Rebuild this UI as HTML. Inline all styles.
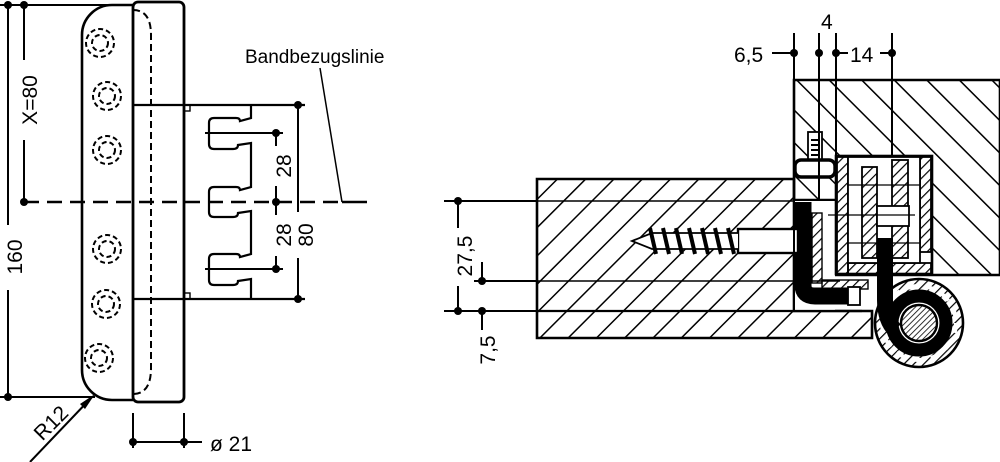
<!DOCTYPE html>
<html><head><meta charset="utf-8"><style>
html,body{margin:0;padding:0;background:#fff;}
svg{display:block;}
text{font-family:"Liberation Sans",Arial,sans-serif;fill:#000;}
</style></head><body>
<svg width="1000" height="462" viewBox="0 0 1000 462" xmlns="http://www.w3.org/2000/svg">
<defs>
<pattern id="hd" patternUnits="userSpaceOnUse" width="20" height="20" patternTransform="rotate(45)">
<line x1="0" y1="0" x2="0" y2="20" stroke="#000" stroke-width="3"/></pattern>
<pattern id="hf" patternUnits="userSpaceOnUse" width="23" height="23" patternTransform="rotate(-45)">
<line x1="0" y1="0" x2="0" y2="23" stroke="#000" stroke-width="3"/></pattern>
<pattern id="hs" patternUnits="userSpaceOnUse" width="7" height="7" patternTransform="rotate(45)">
<line x1="0" y1="0" x2="0" y2="7" stroke="#000" stroke-width="2.4"/></pattern>
<pattern id="hp" patternUnits="userSpaceOnUse" width="4" height="4" patternTransform="rotate(45)">
<line x1="0" y1="0" x2="0" y2="4" stroke="#000" stroke-width="1.6"/></pattern>
</defs>

<!-- ============ LEFT VIEW ============ -->
<g stroke="#000" fill="none" stroke-width="2">
<line x1="0" y1="5" x2="130" y2="5"/>
<line x1="0" y1="397" x2="95" y2="397"/>
<line x1="8" y1="5" x2="8" y2="225"/>
<line x1="8" y1="290" x2="8" y2="397"/>
<line x1="24" y1="5" x2="24" y2="60"/>
<line x1="24" y1="140" x2="24" y2="202"/>
</g>
<g fill="#000">
<circle cx="8" cy="5" r="4"/><circle cx="24" cy="5" r="4"/>
<circle cx="8" cy="397" r="4"/><circle cx="24" cy="202" r="4"/>
</g>
<text transform="translate(22,257) rotate(-90)" font-size="21" text-anchor="middle">160</text>
<text transform="translate(37,100) rotate(-90)" font-size="21" text-anchor="middle">X=80</text>

<path d="M133,5 H112 A30,30 0 0 0 82,35 V370 A30,30 0 0 0 112,400 H133" fill="none" stroke="#000" stroke-width="2.6"/>
<rect x="133" y="2" width="51" height="400" rx="5" fill="#fff" stroke="#000" stroke-width="2.8"/>
<path d="M133,10 Q151,10 151,35 V368 Q151,394 133,394" fill="none" stroke="#000" stroke-width="2" stroke-dasharray="7,4"/>
<g fill="none" stroke="#000" stroke-width="2" stroke-dasharray="5,3">
<circle cx="100" cy="43" r="14"/><circle cx="100" cy="43" r="8"/>
<circle cx="107" cy="96" r="14"/><circle cx="107" cy="96" r="8"/>
<circle cx="107" cy="150" r="14"/><circle cx="107" cy="150" r="8"/>
<circle cx="107" cy="249" r="14"/><circle cx="107" cy="249" r="8"/>
<circle cx="106" cy="304" r="14"/><circle cx="106" cy="304" r="8"/>
<circle cx="99" cy="358" r="14"/><circle cx="99" cy="358" r="8"/>
</g>
<g stroke="#000" fill="none" stroke-width="2.2">
<line x1="133" y1="105" x2="305" y2="105"/>
<line x1="133" y1="299" x2="305" y2="299"/>
<rect x="184" y="105" width="6" height="6" stroke-width="1.4"/>
<rect x="184" y="293" width="6" height="6" stroke-width="1.4"/>
<path d="M251,105 V118 L240,121 Q240,118 236,118 H214 Q209,118 209,123 V144 Q209,149 214,149 H233 Q238,149 238,145 L251,143
 V187 L240,190 Q240,187 236,187 H214 Q209,187 209,192 V212 Q209,217 214,217 H233 Q238,217 238,213 L251,211
 V254 L240,257 Q240,254 236,254 H214 Q209,254 209,259 V280 Q209,285 214,285 H233 Q238,285 238,281 L251,279 V299"/>
</g>
<g stroke="#000" stroke-width="2">
<line x1="205" y1="133" x2="283" y2="133"/>
<line x1="205" y1="269" x2="283" y2="269"/>
<line x1="298" y1="105" x2="298" y2="212"/>
<line x1="298" y1="258" x2="298" y2="299"/>
<line x1="276" y1="133" x2="276" y2="146"/>
<line x1="276" y1="186" x2="276" y2="215"/>
<line x1="276" y1="256" x2="276" y2="269"/>
<line x1="320" y1="68" x2="342" y2="202" stroke-width="1.5"/>
<line x1="133" y1="413" x2="133" y2="448"/>
<line x1="184" y1="413" x2="184" y2="448"/>
<line x1="133" y1="442" x2="202" y2="442"/>
<line x1="30" y1="462" x2="92" y2="397"/>
</g>
<line x1="24" y1="202" x2="342" y2="202" stroke="#000" stroke-width="2.4" stroke-dasharray="15,8"/>
<line x1="342" y1="202" x2="367" y2="202" stroke="#000" stroke-width="2.4"/>
<g fill="#000">
<circle cx="298" cy="105" r="4"/><circle cx="298" cy="299" r="4"/>
<circle cx="276" cy="133" r="4"/><circle cx="276" cy="202" r="4"/><circle cx="276" cy="269" r="4"/>
<circle cx="133" cy="442" r="4"/><circle cx="184" cy="442" r="4"/>
<path d="M95,394 L80,404 L85,409 Z"/>
</g>
<text transform="translate(291,166) rotate(-90)" font-size="21" text-anchor="middle">28</text>
<text transform="translate(291,235) rotate(-90)" font-size="21" text-anchor="middle">28</text>
<text transform="translate(313,235) rotate(-90)" font-size="21" text-anchor="middle">80</text>
<text x="245" y="63" font-size="19">Bandbezugslinie</text>
<text transform="translate(56,428) rotate(-45)" font-size="21" text-anchor="middle">R12</text>
<text x="210" y="451" font-size="21">ø 21</text>

<!-- ============ RIGHT VIEW ============ -->
<path d="M794,80 H1000 V275 H836 V200 H794 Z" fill="url(#hf)" stroke="#000" stroke-width="2.6"/>
<path d="M537,179 H794 V311 H872 V338 H537 Z" fill="url(#hd)" stroke="#000" stroke-width="2.6"/>
<rect x="795" y="201" width="40" height="109" fill="#fff"/>
<rect x="836" y="156" width="96" height="118" fill="#fff" stroke="#000" stroke-width="2.6"/>
<rect x="837" y="157" width="11" height="117" fill="url(#hs)" stroke="#000" stroke-width="1.8"/>
<rect x="920" y="157" width="11" height="95" fill="url(#hs)" stroke="#000" stroke-width="1.8"/>
<rect x="848" y="263" width="83" height="11" fill="url(#hs)" stroke="#000" stroke-width="1.8"/>
<rect x="848" y="157" width="72" height="106" fill="#fff" stroke="#000" stroke-width="1.8"/>
<line x1="848" y1="185" x2="920" y2="185" stroke="#000" stroke-width="1.2"/>
<line x1="848" y1="243" x2="920" y2="243" stroke="#000" stroke-width="1.2"/>
<rect x="862" y="167" width="15" height="91" fill="url(#hs)" stroke="#000" stroke-width="1.8"/>
<rect x="892" y="160" width="16" height="98" fill="url(#hs)" stroke="#000" stroke-width="1.8"/>
<rect x="877" y="206" width="32" height="20" fill="#fff" stroke="#000" stroke-width="1.8"/>
<line x1="828" y1="215" x2="915" y2="215" stroke="#000" stroke-width="1.2"/>
<rect x="812" y="213" width="10" height="70" fill="url(#hs)" stroke="#000" stroke-width="1.4"/>
<rect x="822" y="280" width="46" height="9" fill="url(#hs)" stroke="#000" stroke-width="1.4"/>
<path d="M803,202 V285 Q803,296 815,296 H848" fill="none" stroke="#000" stroke-width="17"/>
<rect x="848" y="287" width="12" height="18" fill="#fff" stroke="#000" stroke-width="1.8"/>
<rect x="738" y="229" width="60" height="24" fill="#fff" stroke="#000" stroke-width="2.4"/>
<path d="M738,233 H652 L632,241 L652,249 H738" fill="#fff" stroke="#000" stroke-width="1.8"/>
<g stroke="#000" stroke-width="4">
<line x1="650" y1="228" x2="656" y2="254"/><line x1="663" y1="228" x2="669" y2="254"/>
<line x1="676" y1="228" x2="682" y2="254"/><line x1="689" y1="228" x2="695" y2="254"/>
<line x1="702" y1="228" x2="708" y2="254"/><line x1="715" y1="228" x2="721" y2="254"/>
<line x1="728" y1="228" x2="734" y2="254"/>
</g>
<rect x="808" y="132" width="14" height="28" fill="#fff" stroke="#000" stroke-width="1.8"/>
<path d="M811,140 H819 M811,145 H819 M811,150 H819 M811,155 H819" stroke="#000" stroke-width="2"/>
<rect x="795" y="160" width="40" height="17" rx="6" fill="#fff" stroke="#000" stroke-width="3.4"/>
<circle cx="919" cy="323" r="44" fill="url(#hs)" stroke="#000" stroke-width="2.6"/>
<circle cx="919" cy="323" r="37" fill="none" stroke="#fff" stroke-width="4" stroke-dasharray="10,8"/>
<circle cx="919" cy="323" r="27" fill="#fff" stroke="#000" stroke-width="13"/>
<path d="M885,238 V300 Q885,320 895,330" fill="none" stroke="#000" stroke-width="16"/>
<circle cx="919" cy="323" r="18" fill="url(#hp)" stroke="#000" stroke-width="2.4"/>
<g stroke="#000" stroke-width="2">
<line x1="794" y1="33" x2="794" y2="311"/>
<line x1="819" y1="33" x2="819" y2="200"/>
<line x1="836" y1="33" x2="836" y2="156"/>
<line x1="892" y1="33" x2="892" y2="156"/>
<line x1="772" y1="53" x2="794" y2="53"/>
<line x1="836" y1="53" x2="848" y2="53"/>
<line x1="880" y1="53" x2="892" y2="53"/>
<line x1="444" y1="201" x2="537" y2="201"/>
<line x1="474" y1="281" x2="537" y2="281"/>
<line x1="444" y1="311" x2="537" y2="311"/>
<line x1="537" y1="201" x2="794" y2="201" stroke-width="1.5"/>
<line x1="537" y1="281" x2="840" y2="281" stroke-width="1.5"/>
<line x1="537" y1="311" x2="862" y2="311" stroke-width="2.2"/>
<line x1="458" y1="201" x2="458" y2="228"/>
<line x1="458" y1="286" x2="458" y2="311"/>
<line x1="482" y1="262" x2="482" y2="281"/>
<line x1="482" y1="311" x2="482" y2="330"/>
</g>
<g fill="#000">
<circle cx="794" cy="53" r="4"/><circle cx="819" cy="53" r="4"/>
<circle cx="836" cy="53" r="4"/><circle cx="892" cy="53" r="4"/>
<circle cx="458" cy="201" r="4"/><circle cx="458" cy="311" r="4"/>
<circle cx="482" cy="281" r="4"/><circle cx="482" cy="311" r="4"/>
</g>
<text x="734" y="62" font-size="21">6,5</text>
<text x="821" y="29" font-size="21">4</text>
<text x="850" y="62" font-size="21">14</text>
<text transform="translate(472,256) rotate(-90)" font-size="21" text-anchor="middle">27,5</text>
<text transform="translate(495,350) rotate(-90)" font-size="21" text-anchor="middle">7,5</text>
</svg>
</body></html>
